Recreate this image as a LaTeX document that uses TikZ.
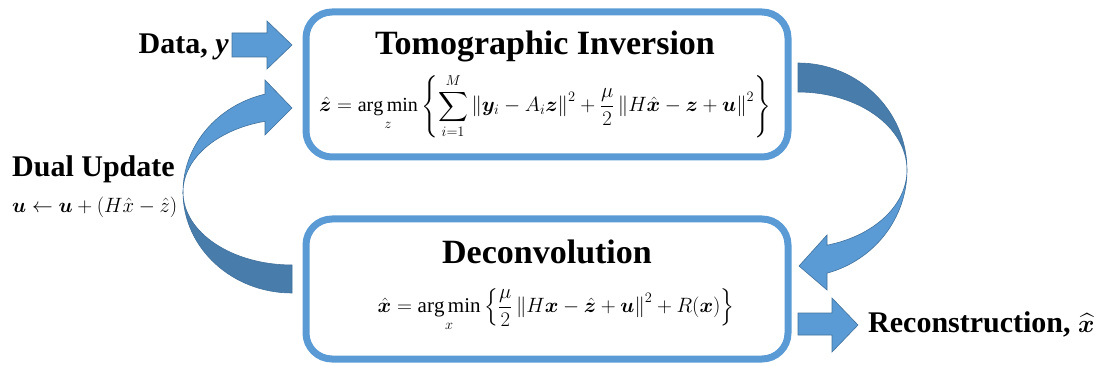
\documentclass[tikz,border=0pt]{standalone}
\usepackage{amsmath}
\usepackage{bm}
\usepackage{fontspec}
\setmainfont{Liberation Serif}
\definecolor{pblue}{HTML}{5B9BD5}
\definecolor{dblue}{HTML}{487CAB}
\definecolor{eblue}{HTML}{41719C}
\begin{document}
\begin{tikzpicture}[x=1pt,y=-1pt,
 box/.style={draw=pblue, line width=7pt, rounded corners=26pt, fill=white, minimum width=482pt, inner sep=0pt},
 title/.style={font=\bfseries\fontsize{34}{40}\selectfont, anchor=base, inner sep=0pt},
 lab/.style={font=\bfseries\fontsize{30}{34}\selectfont, inner sep=0pt},
 eqn/.style={font=\fontsize{21}{25}\selectfont, inner sep=0pt},
 barrow/.style={fill=pblue, draw=eblue, line width=0.6pt, line join=miter},
 darrow/.style={fill=dblue, draw=eblue, line width=0.6pt, line join=miter}]
\useasboundingbox (0,0) rectangle (1098,366);

% boxes
\node[box, minimum height=145pt] (tomo) at (547,84.5) {};
\node[box, minimum height=140pt] (deco) at (547,289) {};

% box contents
\node[title] (tomot) at (545,55) {Tomographic Inversion};
\node[eqn, font=\fontsize{20}{24}\selectfont] (tomoe) at (545,106) {$\displaystyle \hat{\bm z} = \mathop{\mathrm{arg\,min}}\limits_{z}\left\{ \sum_{i=1}^{M}\left\| \bm y_i - A_i\bm z\right\|^2 + \frac{\mu}{2}\left\| H\hat{\bm x} - \bm z + \bm u\right\|^2\right\}$};
\node[title] (decot) at (547,263) {Deconvolution};
\node[eqn] (decoe) at (556,310) {$\displaystyle \hat{\bm x} = \mathop{\mathrm{arg\,min}}\limits_{x}\left\{ \frac{\mu}{2}\left\| H\bm x - \hat{\bm z} + \bm u\right\|^2 + R(\bm x)\right\}$};

% side labels
\node[lab, anchor=base east] (data) at (229,54) {Data, \textit{y}};
\node[lab, anchor=base west] (dual) at (12,177) {Dual Update};
\node[eqn, anchor=base west] (duale) at (12,213) {$\bm u \leftarrow \bm u + \left( H\hat{x} - \hat{z}\right)$};
\node[lab, anchor=base west] (recon) at (868,332) {Reconstruction, $\widehat{\bm x}$};

% straight block arrows
\draw[barrow] (232,33) -- (267,33) -- (267,21) -- (292,45) -- (267,69) -- (267,57) -- (232,57) -- cycle;
\draw[barrow] (798,313) -- (832,313) -- (832,298) -- (858,325) -- (832,352) -- (832,335) -- (798,335) -- cycle;

% right curved arrow (tomo -> deco)
\draw[darrow] (798,63) arc[start angle=-90, end angle=0, x radius=109, y radius=107]
   -- (907,170) arc[start angle=0, end angle=-90, x radius=109, y radius=78] -- cycle;
\draw[barrow] (907,170) arc[start angle=0, end angle=74.57, x radius=109, y radius=107]
   -- (827,290) -- (799,266) -- (827,235) -- (827,245.2)
   arc[start angle=74.57, end angle=0, x radius=109, y radius=78] -- cycle;

% left curved arrow (deco -> tomo)
\draw[darrow] (183,192) arc[start angle=180, end angle=90, x radius=109, y radius=101]
   -- (292,265) arc[start angle=90, end angle=180, x radius=109, y radius=73] -- cycle;
\draw[barrow] (183,192) arc[start angle=180, end angle=255.66, x radius=109, y radius=101]
   -- (265,80) -- (292,108) -- (265,135) -- (265,121.3)
   arc[start angle=255.66, end angle=180, x radius=109, y radius=73] -- cycle;
\end{tikzpicture}
\end{document}
